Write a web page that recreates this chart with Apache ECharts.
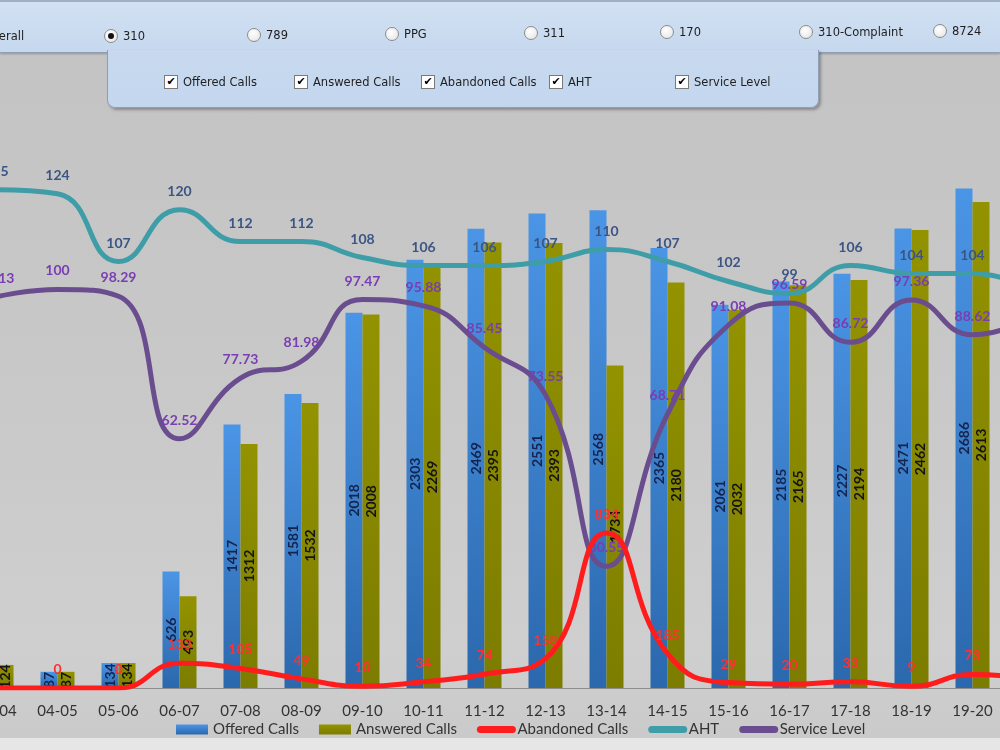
<!DOCTYPE html>
<html>
<head>
<meta charset="utf-8">
<script src="https://cdn.jsdelivr.net/npm/echarts@6/dist/echarts.min.js"></script>
<style>
    html, body {margin:0;padding:0;width:1000px;height:750px;overflow:hidden;background:#e6e6e6;}
    .bg {position:absolute;left:0;top:0;width:1000px;height:738px;background:linear-gradient(to bottom,#c3c3c3 0%,#c8c8c8 50%,#cfcfcf 88%,#cacaca 100%);}
    #chart {position:absolute;left:-34px;top:0;width:1100px;height:750px;z-index:1;}
    .band {position:absolute;left:0;top:0;width:1000px;height:50px;background:linear-gradient(to bottom,#d2e1f3,#c6d8ee);border-top:2px solid #9fb1c7;border-bottom:1px solid #8e9fb6;box-shadow:0 1px 2px rgba(0,0,0,.25);z-index:2;}
    .sub {position:absolute;left:107px;top:50px;width:710px;height:57px;background:linear-gradient(to bottom,#c8d9ee,#c4d7ee);border:1px solid #8e9fb6;border-top:none;border-radius:0 0 8px 8px;box-shadow:2px 2px 3px rgba(0,0,0,.3);z-index:3;}
    .txt {position:absolute;font-family:"DejaVu Sans",sans-serif;font-size:11.5px;color:#1e1e1e;line-height:14px;white-space:nowrap;z-index:4;}
    .radio {position:absolute;width:12px;height:12px;border-radius:50%;border:1px solid #8c8c8c;background:radial-gradient(circle at 40% 35%,#ffffff,#e2e2e2);z-index:4;}
    .radio.on::after {content:"";position:absolute;left:3px;top:3px;width:6px;height:6px;border-radius:50%;background:#111;}
    .check {position:absolute;width:12px;height:12px;border:1px solid #7a7a7a;background:#fff;z-index:4;font-family:"DejaVu Sans",sans-serif;font-size:11px;line-height:12px;text-align:center;font-weight:bold;color:#000;}
</style>
</head>
<body>
<div class="bg"></div>
<div class="band"></div>
<div class="sub"></div>
<div id="panel"></div>
<div id="chart"></div>
<script>
    // data (first and last category are cut by the frame)
    var categories = ['03-04','04-05','05-06','06-07','07-08','08-09','09-10','10-11','11-12','12-13','13-14','14-15','15-16','16-17','17-18','18-19','19-20','20-21'];
    var offered   = [124, 87, 134, 626, 1417, 1581, 2018, 2303, 2469, 2551, 2568, 2365, 2061, 2185, 2227, 2471, 2686, 2650];
    var answered  = [124, 87, 134, 493, 1312, 1532, 2008, 2269, 2395, 2393, 1734, 2180, 2032, 2165, 2194, 2462, 2613, 2605];
    var abandoned = [0, 0, 0, 133, 105, 49, 10, 34, 74, 158, 834, 185, 29, 20, 33, 9, 73, 45];
    var aht       = [125, 124, 107, 120, 112, 112, 108, 106, 106, 107, 110, 107, 102, 99, 106, 104, 104, 100];
    var service   = [98.13, 100, 98.29, 62.52, 77.73, 81.98, 97.47, 95.88, 85.45, 73.55, 30.55, 68.71, 91.08, 96.59, 86.72, 97.36, 88.62, 93];

    var radios = ['Overall','310','789','PPG','311','170','310-Complaint','8724'];
    var checks = ['Offered Calls','Answered Calls','Abandoned Calls','AHT','Service Level'];

    // top filter panel
    var radioPos = [[-29,36],[111,36],[254,35],[392,34],[531,33],[667,32],[806,32],[940,31]];
    var checkPos = [164,294,421,549,675];
    var html = '';
    radios.forEach(function (r, i) {
        var x = radioPos[i][0], y = radioPos[i][1];
        html += '<div class="radio' + (r == '310' ? ' on' : '') + '" style="left:' + (x - 7) + 'px;top:' + (y - 7) + 'px"></div>';
        html += '<div class="txt" style="left:' + (x + 12) + 'px;top:' + (y - 7) + 'px">' + r + '</div>';
    });
    checks.forEach(function (c, i) {
        var x = checkPos[i];
        html += '<div class="check" style="left:' + x + 'px;top:75px">&#10004;</div>';
        html += '<div class="txt" style="left:' + (x + 19) + 'px;top:75px">' + c + '</div>';
    });
    document.getElementById('panel').innerHTML = html;

    var chart = echarts.init(document.getElementById('chart'));
    var font = 'Lato, "Open Sans", sans-serif';

    function lineSeries(name, data, axis, color, labelColor, z) {
        return {
            name: name,
            type: 'line',
            yAxisIndex: axis,
            data: data,
            smooth: true,
            symbol: 'circle',
            symbolSize: 1,
            z: z,
            itemStyle: {color: color},
            lineStyle: {color: color, width: 5},
            label: {show: true, position: 'top', distance: 11, color: labelColor, fontSize: 14, fontWeight: 'bold', fontFamily: font}
        };
    }

    function barSeries(name, data, top, bottom, labelColor) {
        return {
            name: name,
            type: 'bar',
            yAxisIndex: 0,
            data: data,
            barWidth: 17,
            barGap: '0%',
            z: 2,
            itemStyle: {color: new echarts.graphic.LinearGradient(0, 0, 0, 1, [{offset: 0, color: top}, {offset: 1, color: bottom}])},
            label: {show: true, position: 'inside', rotate: 90, color: labelColor, fontSize: 14, fontWeight: 'bold', fontFamily: font}
        };
    }

    var option = {
        animation: false,
        grid: {left: 0, top: 130, width: 1098, height: 558, outerBoundsMode: 'none'},
        legend: {
            left: 205, top: 717,
            itemWidth: 32, itemHeight: 10, itemGap: 20,
            textStyle: {fontSize: 15, color: '#333', fontFamily: font},
            lineStyle: {width: 7, cap: 'round'},
            data: [
                {name: 'Offered Calls', icon: 'rect'},
                {name: 'Answered Calls', icon: 'rect'},
                {name: 'Abandoned Calls', itemStyle: {opacity: 0}},
                {name: 'AHT', itemStyle: {opacity: 0}},
                {name: 'Service Level', itemStyle: {opacity: 0}}
            ]
        },
        xAxis: {
            type: 'category',
            data: categories,
            axisLine: {lineStyle: {color: '#8c8c8c'}},
            axisTick: {length: 5, lineStyle: {color: '#8c8c8c'}},
            axisLabel: {fontSize: 15, color: '#333', margin: 16, fontFamily: font}
        },
        yAxis: [
            {type: 'value', min: 0, max: 3000, show: false},
            {type: 'value', min: 0, max: 140, show: false}
        ],
        series: [
            barSeries('Offered Calls', offered, '#4b95e6', '#2b68ad', '#14244f'),
            barSeries('Answered Calls', answered, '#939300', '#7c7c00', '#141414'),
            lineSeries('Abandoned Calls', abandoned, 0, '#ff1c1c', '#ff3030', 4),
            lineSeries('AHT', aht, 1, '#3f9da8', '#3b5584', 3),
            lineSeries('Service Level', service, 1, '#6a4d8e', '#7a3db3', 3)
        ]
    };
    chart.setOption(option);
</script>
</body>
</html>
